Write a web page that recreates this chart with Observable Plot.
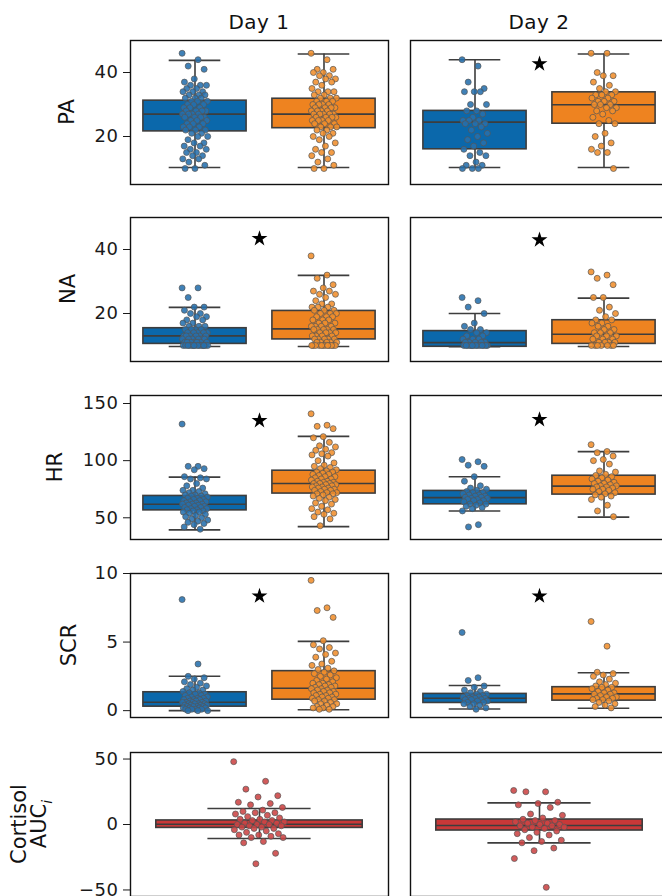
<!DOCTYPE html>
<html><head><meta charset="utf-8">
<script src="https://cdn.jsdelivr.net/npm/d3@7"></script>
<script src="https://cdn.jsdelivr.net/npm/@observablehq/plot@0.6"></script>
<style>
html,body{margin:0;padding:0;background:#fff;}
#root{position:relative;width:662px;height:896px;overflow:hidden;font-family:"DejaVu Sans",sans-serif;color:#111;}
.panel{position:absolute;}
.title{position:absolute;font-size:20px;transform:translate(-50%,-50%);white-space:nowrap;letter-spacing:0.5px;}
.ylab{position:absolute;font-size:21px;line-height:20px;transform:translate(-50%,-50%) rotate(-90deg);white-space:nowrap;text-align:center;}
</style></head><body><div id="root"></div>
<script>
// ---------- labels ----------
const days = ["Day 1", "Day 2"];
const groups = ["Control", "Stress"];
const measures = ["PA", "NA", "HR", "SCR", "Cortisol"];

// ---------- y tick labels & domains ----------
const paTicks = [20, 40];
const naTicks = [20, 40];
const hrTicks = [50, 100, 150];
const scrTicks = [0, 5, 10];
const cortTicks = [-50, 0, 50];
const paDomain = [5, 50];
const naDomain = [5, 50];
const hrDomain = [31, 157];
const scrDomain = [-0.5, 10];
const cortDomain = [-55, 55];

// ---------- box statistics [whiskerLow, Q1, median, Q3, whiskerHigh] ----------
const paBoxD1 = [[10.3, 21.6, 27.0, 31.2, 43.8], [10.3, 22.6, 27.0, 31.8, 45.8]];
const paBoxD2 = [[10.3, 16.0, 24.5, 28.0, 44.0], [10.3, 24.0, 29.9, 33.8, 45.8]];
const naBoxD1 = [[9.7, 10.5, 13.0, 15.4, 21.9], [9.7, 11.9, 15.2, 20.8, 31.9]];
const naBoxD2 = [[9.6, 9.6, 10.9, 14.5, 20.0], [9.7, 10.5, 13.5, 17.9, 24.8]];
const hrBoxD1 = [[39.4, 56.5, 61.8, 69.1, 85.6], [42.3, 71.2, 80.0, 91.2, 121.2]];
const hrBoxD2 = [[55.9, 61.8, 67.6, 73.5, 85.9], [50.6, 70.3, 77.7, 86.8, 107.9]];
const scrBoxD1 = [[0.0, 0.29, 0.61, 1.34, 2.51], [0.07, 0.80, 1.63, 2.88, 5.05]];
const scrBoxD2 = [[0.12, 0.56, 0.90, 1.22, 1.83], [0.17, 0.73, 1.22, 1.71, 2.76]];
const cortBoxD1 = [[-10.7, -2.6, 0.2, 3.1, 12.2]];
const cortBoxD2 = [[-14.0, -4.6, -0.8, 3.8, 16.5]];

// ---------- significance stars (y value, null = none) per day ----------
const paSig = [null, 42.7];
const naSig = [43.4, 43.0];
const hrSig = [135.0, 135.9];
const scrSig = [8.36, 8.36];
const cortSig = [null, null];

// ---------- individual observations ----------
const paD1Control = [46,44,42,41,38,37,36,36,36,35,35,34,34,34,33,33,33,32,32,32,31,31,31,30,30,30,29,29,29,28,28,28,28,27,27,27,27,26,26,26,26,25,25,25,24,24,24,23,23,23,22,22,22,21,21,20,20,19,18,18,17,17,16,16,15,15,14,14,13,13,12,11,10,10];
const paD1Stress = [46,44,41,41,40,40,39,39,38,38,37,37,36,35,34,34,34,33,33,32,32,32,31,31,31,30,30,30,30,29,29,29,29,28,28,28,28,27,27,27,27,27,26,26,26,26,25,25,25,25,24,24,24,23,23,23,22,22,21,21,20,20,19,18,17,16,15,15,14,13,12,11,10,10];
const paD2Control = [44,42,37,35,34,34,34,30,30,28,28,27,26,25,25,25,24,24,24,23,22,21,20,19,18,17,16,15,14,14,12,11,11,10,10,10];
const paD2Stress = [46,46,40,39,39,37,36,35,34,34,33,33,33,32,32,31,31,31,30,30,30,29,29,28,28,27,26,25,24,24,21,20,18,17,16,15,15,10];
const naD1Control = [28,28,25,22,22,21,20,20,19,19,18,18,17,17,16,16,16,15,15,15,15,14,14,14,14,14,13,13,13,13,13,13,12,12,12,12,12,12,11,11,11,11,11,11,11,10,10,10,10,10,10,10,10,10,10,10,10,10,10,10];
const naD1Stress = [38,32,31,29,28,27,27,26,26,25,24,23,23,22,22,22,21,21,21,20,20,20,19,19,19,18,18,18,17,17,17,16,16,16,16,15,15,15,15,15,14,14,14,14,13,13,13,13,12,12,12,12,12,11,11,11,11,11,10,10,10,10,10,10,10,10,10,10,10,10];
const naD2Control = [25,24,22,20,17,16,15,15,14,14,13,13,12,12,12,11,11,11,11,11,10,10,10,10,10,10,10,10,10,10,10,10,10,10];
const naD2Stress = [33,32,31,29,25,25,22,21,20,19,18,18,17,17,16,16,15,15,14,14,14,13,13,13,12,12,12,11,11,11,11,10,10,10,10,10,10,10];
const hrD1Control = [132,95,95,93,92,86,85,84,84,80,78,76,74,74,73,72,71,70,70,69,69,68,67,67,66,66,65,65,64,64,63,63,62,62,62,61,61,60,60,59,59,58,58,57,57,56,56,55,55,54,53,52,51,50,49,48,47,46,45,44,42,40];
const hrD1Stress = [141,131,130,128,121,120,116,113,112,110,109,107,106,105,104,100,98,96,95,94,93,92,91,90,90,89,88,88,87,86,86,85,84,84,83,82,82,81,81,80,80,80,79,79,78,78,77,77,76,76,75,75,74,74,73,72,72,71,71,70,69,68,67,66,65,63,62,60,58,57,55,54,53,51,49,43];
const hrD2Control = [101,99,96,95,86,82,78,76,75,74,73,72,72,71,70,70,69,69,68,68,67,67,66,66,65,65,64,63,62,62,61,60,59,58,56,44,42];
const hrD2Stress = [114,108,107,104,101,100,97,91,90,88,87,86,85,84,83,82,81,80,80,79,78,78,77,77,76,75,75,74,73,72,71,70,69,68,66,61,56,51];
const scrD1Control = [8.1,3.4,2.5,2.4,2.3,2.1,2.0,1.9,1.8,1.7,1.6,1.5,1.5,1.4,1.3,1.3,1.2,1.2,1.1,1.1,1.0,1.0,0.9,0.9,0.9,0.8,0.8,0.8,0.7,0.7,0.7,0.6,0.6,0.6,0.6,0.5,0.5,0.5,0.5,0.4,0.4,0.4,0.4,0.3,0.3,0.3,0.3,0.2,0.2,0.2,0.2,0.1,0.1,0.1,0.1,0.0,0.0,0.0];
const scrD1Stress = [9.5,7.5,7.3,6.8,5.1,4.8,4.6,4.5,4.2,4.1,3.9,3.6,3.4,3.3,3.1,3.0,2.9,2.8,2.7,2.6,2.5,2.4,2.3,2.2,2.1,2.0,2.0,1.9,1.9,1.8,1.8,1.7,1.7,1.6,1.6,1.5,1.5,1.4,1.4,1.3,1.3,1.2,1.2,1.1,1.1,1.0,1.0,0.9,0.9,0.8,0.8,0.7,0.7,0.6,0.5,0.5,0.4,0.3,0.3,0.2,0.2,0.1,0.1];
const scrD2Control = [5.7,2.4,2.2,1.8,1.7,1.5,1.4,1.3,1.2,1.2,1.1,1.1,1.0,1.0,1.0,0.9,0.9,0.9,0.8,0.8,0.8,0.7,0.7,0.6,0.6,0.5,0.5,0.4,0.3,0.2,0.1];
const scrD2Stress = [6.5,4.7,2.8,2.7,2.6,2.5,2.3,2.1,2.0,1.9,1.8,1.7,1.7,1.6,1.5,1.4,1.3,1.3,1.2,1.2,1.1,1.0,1.0,0.9,0.9,0.8,0.8,0.7,0.6,0.5,0.4,0.3,0.2];
const cortD1 = [48,33,27,22,21,17,16,15,13,11,10,9,9,8,7,6,5,4,4,3,3,2,2,1,1,0,0,0,-1,-1,-2,-2,-3,-3,-4,-5,-6,-7,-8,-8,-9,-10,-10,-13,-14,-22,-30];
const cortD2 = [26,25,25,17,16,15,13,8,7,5,4,3,3,2,1,1,0,0,-1,-1,-2,-2,-3,-4,-5,-6,-7,-8,-10,-12,-13,-14,-18,-20,-26,-48];

// ---------- styling ----------
const boxFill2 = ["#0b68ab", "#ee8320"];
const dotFill2 = ["#2670ad", "#f08e2c"];
const boxFill1 = ["#c93838"];
const dotFill1 = ["#cc4444"];
const lineCol = "#3d3d3d";

const rows = [
  {label: "PA", ticks: paTicks, domain: paDomain, data: [[paD1Control, paD1Stress], [paD2Control, paD2Stress]], box: [paBoxD1, paBoxD2], sig: paSig},
  {label: "NA", ticks: naTicks, domain: naDomain, data: [[naD1Control, naD1Stress], [naD2Control, naD2Stress]], box: [naBoxD1, naBoxD2], sig: naSig},
  {label: "HR", ticks: hrTicks, domain: hrDomain, data: [[hrD1Control, hrD1Stress], [hrD2Control, hrD2Stress]], box: [hrBoxD1, hrBoxD2], sig: hrSig},
  {label: "SCR", ticks: scrTicks, domain: scrDomain, data: [[scrD1Control, scrD1Stress], [scrD2Control, scrD2Stress]], box: [scrBoxD1, scrBoxD2], sig: scrSig},
  {label: "Cortisol", ticks: cortTicks, domain: cortDomain, data: [[cortD1], [cortD2]], box: [cortBoxD1, cortBoxD2], sig: cortSig}
];

const root = document.getElementById("root");
const frameTops = [40, 217, 395, 573, 752];
const frameH = 144, frameW = 258;
const colLeft = [130, 410];
const ylabX = [67, 68, 55, 69, 33];

// deterministic strip-plot spread (low-discrepancy sequence), ±0.1 of a category
const spread = k => (((k * 0.6180339887) % 1) - 0.5) * 0.2;

function makePanel(row, day) {
  const pts = row.data[day];
  const n = pts.length;
  const boxes = row.box[day].map((b, i) => ({i, wlo: b[0], q1: b[1], med: b[2], q3: b[3], whi: b[4]}));
  const dots = pts.flatMap((arr, i) => arr.map((v, k) => ({i, v, j: spread(k)})));
  const fills = n === 2 ? boxFill2 : boxFill1;
  const dfills = n === 2 ? dotFill2 : dotFill1;
  const sig = row.sig[day] == null ? [] : [{y: row.sig[day]}];
  const left = day === 0;
  const mL = left ? 130 : 2;
  return Plot.plot({
    width: mL + frameW + 2,
    height: frameH + 2,
    marginTop: 1, marginBottom: 1, marginLeft: mL, marginRight: 2,
    style: {fontFamily: "DejaVu Sans, sans-serif", fontSize: "18px", color: "#1a1a1a", background: "transparent", overflow: "visible", letterSpacing: "0.5px"},
    x: {domain: [0, n], axis: null},
    y: {domain: row.domain, axis: left ? "left" : null, ticks: row.ticks, tickSize: 7, tickPadding: 5, label: null},
    color: {type: "identity"},
    marks: [
      Plot.ruleX(boxes, {x: d => d.i + 0.5, y1: "wlo", y2: "whi", stroke: lineCol, strokeWidth: 1.6}),
      Plot.rectY(boxes, {x1: d => d.i + 0.1, x2: d => d.i + 0.9, y1: "q1", y2: "q3", fill: d => fills[d.i], stroke: lineCol, strokeWidth: 1.6}),
      Plot.ruleY(boxes, {x1: d => d.i + 0.1, x2: d => d.i + 0.9, y: "med", stroke: lineCol, strokeWidth: 1.6}),
      Plot.ruleY(boxes, {x1: d => d.i + 0.3, x2: d => d.i + 0.7, y: "whi", stroke: lineCol, strokeWidth: 1.6}),
      Plot.ruleY(boxes, {x1: d => d.i + 0.3, x2: d => d.i + 0.7, y: "wlo", stroke: lineCol, strokeWidth: 1.6}),
      Plot.dot(dots, {x: d => d.i + 0.5 + d.j, y: "v", r: 3, fill: d => dfills[d.i], fillOpacity: 0.88, stroke: "#555", strokeWidth: 0.7}),
      Plot.dot(sig, {x: () => n / 2, y: "y", symbol: "star", r: 5, fill: "#000", stroke: "none"}),
      Plot.frame({stroke: "#111", strokeWidth: 1.4})
    ]
  });
}

// column titles
days.forEach((d, c) => {
  const t = document.createElement("div");
  t.className = "title";
  t.textContent = d;
  t.style.left = (colLeft[c] + frameW / 2) + "px";
  t.style.top = "22px";
  root.appendChild(t);
});

rows.forEach((row, r) => {
  [0, 1].forEach(day => {
    const svg = makePanel(row, day);
    svg.classList.add("panel");
    svg.style.left = (day === 0 ? 0 : colLeft[1] - 2) + "px";
    svg.style.top = (frameTops[r] - 1) + "px";
    root.appendChild(svg);
  });
  const lab = document.createElement("div");
  lab.className = "ylab";
  if (row.label === "Cortisol") lab.innerHTML = "Cortisol<br>AUC<sub style=\"font-size:14px\"><i>i</i></sub>";
  else lab.textContent = row.label;
  lab.style.left = ylabX[r] + "px";
  lab.style.top = (frameTops[r] + frameH / 2) + "px";
  root.appendChild(lab);
});
</script>
</body></html>
